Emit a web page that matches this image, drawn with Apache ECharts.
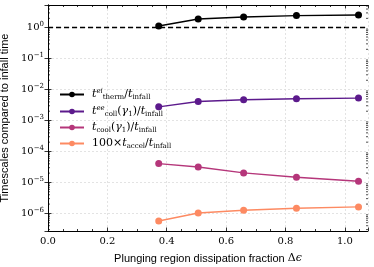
<!DOCTYPE html>
<html><head><meta charset="utf-8">
<script src="https://cdn.jsdelivr.net/npm/echarts@6/dist/echarts.min.js"></script>
<style>html,body{margin:0;padding:0;background:#fff}#c{width:374px;height:267px}</style>
</head><body><div id="c"></div>
<script>
const dissipation = [0.373, 0.506, 0.659, 0.837, 1.046];
const tTherm = [1.13, 1.9, 2.2, 2.45, 2.57];
const tColl = [2.77e-3, 4.1e-3, 4.68e-3, 5.04e-3, 5.3e-3];
const tCool = [4.07e-5, 3.17e-5, 2.03e-5, 1.47e-5, 1.09e-5];
const tAccel = [5.7e-7, 1.03e-6, 1.26e-6, 1.47e-6, 1.62e-6];
const refLine = 1;
const seriesNames = ['therm', 'coll', 'cool', 'accel'];
const seriesColors = ['#000000', '#5c1a8c', '#b5367a', '#fd8a62'];
const xRange = [0, 1.078];
const yRange = [2.7e-7, 5.4];

const serif = 'DejaVu Serif';
const legendRich = {
  it: {fontFamily: serif, fontStyle: 'italic', fontSize: 11, lineHeight: 13, color: '#000'},
  n: {fontFamily: serif, fontSize: 11, lineHeight: 13, color: '#000'},
  sub: {fontFamily: serif, fontSize: 7, lineHeight: 13, verticalAlign: 'bottom', color: '#000'},
  sup: {fontFamily: serif, fontStyle: 'italic', fontSize: 7, lineHeight: 13, verticalAlign: 'top', color: '#000'}
};
const legendText = {
  therm: '{it|t}{sup|ei}{sub|therm}{n|/}{it|t}{sub|infall}',
  coll: '{it|t}{sup|ee}{sub|coll}{n|(}{it|γ}{sub|1}{n|)/}{it|t}{sub|infall}',
  cool: '{it|t}{sub|cool}{n|(}{it|γ}{sub|1}{n|)/}{it|t}{sub|infall}',
  accel: '{n|100×}{it|t}{sub|accel}{n|/}{it|t}{sub|infall}'
};
const pairs = arr => dissipation.map((x, i) => [x, arr[i]]);
const allData = [tTherm, tColl, tCool, tAccel];

const grid = {left: 48, right: 6, top: 5, bottom: 36, outerBoundsMode: 'none', containLabel: false};
const tickStyle = {color: '#000', width: 0.8};
const splitStyle = {show: true, lineStyle: {color: '#dcdcdc', type: [2, 2], width: 0.8}};

const series = seriesNames.map((name, i) => ({
  name, type: 'line', data: pairs(allData[i]),
  symbol: 'circle', symbolSize: 7,
  lineStyle: {color: seriesColors[i], width: 1.4},
  itemStyle: {color: seriesColors[i]},
  z: 5,
  markLine: i === 0 ? {
    silent: true, symbol: 'none', label: {show: false},
    lineStyle: {color: '#000', type: [5, 3], width: 1.4},
    data: [{yAxis: refLine}]
  } : undefined
}));

series.push({
  type: 'custom', coordinateSystem: 'cartesian2d', silent: true, z: 3,
  data: [[0, 1]],
  renderItem(params, api) {
    const cs = params.coordSys;
    const children = [];
    for (let e = -7; e <= 0; e++) {
      for (let m = 2; m <= 9; m++) {
        const y = api.coord([0, m * Math.pow(10, e)])[1];
        if (y < cs.y || y > cs.y + cs.height) continue;
        children.push({type: 'line', shape: {x1: cs.x, y1: y, x2: cs.x + 2, y2: y}, style: {stroke: '#000', lineWidth: 0.7}});
        children.push({type: 'line', shape: {x1: cs.x + cs.width, y1: y, x2: cs.x + cs.width - 2, y2: y}, style: {stroke: '#000', lineWidth: 0.7}});
      }
    }
    return {type: 'group', children};
  }
});

const yLabelFmt = v => {
  const e = Math.round(Math.log10(v));
  return '{b|10}{s|' + (e < 0 ? '−' + (-e) : e) + '}';
};

const chart = echarts.init(document.getElementById('c'), null, {renderer: 'canvas'});
chart.setOption({
  animation: false,
  backgroundColor: '#fff',
  grid,
  legend: {
    data: seriesNames, left: 54, top: 83, orient: 'vertical',
    itemWidth: 24, itemHeight: 7, itemGap: 4,
    formatter: name => legendText[name],
    textStyle: {rich: legendRich, padding: [0, 0, 0, 3]}
  },
  xAxis: [{
    type: 'value', min: xRange[0], max: xRange[1], interval: 0.2,
    name: 'Plunging region dissipation fraction {d|Δ}{e|ϵ}', nameLocation: 'middle', nameGap: 22,
    nameTextStyle: {fontFamily: 'Liberation Sans', fontSize: 11, color: '#000',
      rich: {d: {fontFamily: serif, fontSize: 11, color: '#000'}, e: {fontFamily: serif, fontStyle: 'italic', fontSize: 11, color: '#000'}}},
    axisLine: {show: true, lineStyle: {color: '#000', width: 1}},
    axisTick: {show: true, inside: true, length: 3.5, lineStyle: tickStyle},
    minorTick: {show: true, splitNumber: 4, length: 2, lineStyle: tickStyle},
    axisLabel: {formatter: v => v.toFixed(1), fontFamily: serif, fontSize: 10, color: '#000', margin: 5, showMaxLabel: false},
    splitLine: splitStyle
  }, {
    type: 'value', position: 'top', min: xRange[0], max: xRange[1], interval: 0.2,
    axisLine: {show: true, lineStyle: {color: '#000', width: 1}},
    axisTick: {show: true, inside: true, length: 3.5, lineStyle: tickStyle},
    minorTick: {show: true, splitNumber: 4, length: 2, lineStyle: tickStyle},
    axisLabel: {show: false}, splitLine: {show: false}
  }],
  yAxis: [{
    type: 'log', min: yRange[0], max: yRange[1], logBase: 10,
    name: 'Timescales compared to infall time', nameLocation: 'middle', nameGap: 36,
    nameTextStyle: {fontFamily: 'Liberation Sans', fontSize: 11, color: '#000'},
    axisLine: {show: true, lineStyle: {color: '#000', width: 1}},
    axisTick: {show: true, inside: true, length: 3.5, lineStyle: tickStyle},
    axisLabel: {formatter: yLabelFmt, showMinLabel: false, showMaxLabel: false, margin: 4,
      rich: {b: {fontFamily: serif, fontSize: 10, color: '#000'}, s: {fontFamily: serif, fontSize: 7, color: '#000', verticalAlign: 'top', lineHeight: 14}}},
    splitLine: splitStyle
  }, {
    type: 'log', position: 'right', min: yRange[0], max: yRange[1], logBase: 10,
    axisLine: {show: true, lineStyle: {color: '#000', width: 1}},
    axisTick: {show: true, inside: true, length: 3.5, lineStyle: tickStyle},
    axisLabel: {show: false}, splitLine: {show: false}
  }],
  series
});
</script></body></html>
